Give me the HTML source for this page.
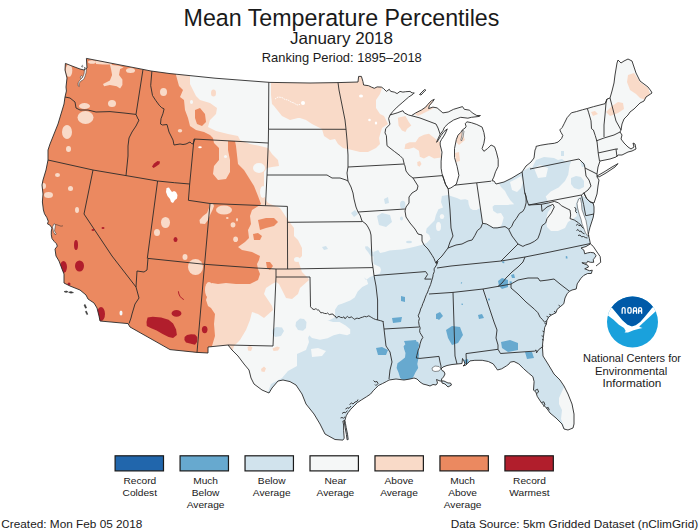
<!DOCTYPE html>
<html><head><meta charset="utf-8"><title>Mean Temperature Percentiles</title>
<style>
html,body{margin:0;padding:0;background:#fff;}
body{width:700px;height:532px;overflow:hidden;position:relative;}
svg{position:absolute;left:0;top:0;}
text{font-family:"Liberation Sans",sans-serif;fill:#1a1a1a;}
</style></head><body>
<svg width="700" height="532" viewBox="0 0 700 532">

<defs><clipPath id="us"><path d="M86.4,58.4 L143,69.4 L151,71 L170,73.6 L180,74.6 L215,78.2 L270,82.4 L310,83 L338,82.6 L358,82 L358.6,76.4 L361.4,76.4 L362.9,81.4 L363.6,85 L368.6,85.7 L371.4,87.1 L374.3,88.3 L377.1,86.9 L381.4,87.1 L383.6,88.6 L386.4,91.4 L389.3,89.3 L390.7,91.4 L394.3,92.1 L397.1,93.6 L400,91.4 L402.9,92.1 L405.7,91.7 L410,91.4 L412.1,92.9 L414.3,92.9 L412.9,94.3 L408.6,97.1 L402.9,102.1 L397.1,107.1 L392.9,111.4 L390,115 L397.1,112.9 L402.9,110.7 L404.3,112.9 L408.6,115 L411.4,115.7 L415.7,112.9 L421.4,110 L425.7,107.1 L427.9,104.3 L431.4,100.7 L434.3,99.3 L432.9,101.4 L429.3,105.7 L428.6,108.6 L432.9,107.1 L437.1,107.9 L442.9,112.9 L448.2,112 L453.6,109.3 L462.5,106.6 L464.3,109.3 L469.6,110.2 L472.3,112.9 L476.8,115.5 L480.4,115.5 L479.5,116.4 L471.4,117.3 L467.9,118.2 L460.7,117.3 L453.6,120 L448.2,123.6 L444.6,127.1 L442.9,130.7 L440.2,134.3 L438.4,137.9 L436.6,142.3 L438,140.5 L441,135.5 L444,131.5 L447.3,128.9 L445.5,133 L443.8,136.1 L441.5,139.5 L440.2,142 L440.2,145 L442,152.1 L441.1,161.1 L441.1,168.2 L442,173.6 L443.8,178.9 L445.5,184.3 L448.2,188.8 L450.9,187.9 L456.3,184.3 L458.9,175.4 L457.1,166.4 L454.5,157.5 L454.5,148.6 L456.3,139.6 L458,135.2 L460.7,132.5 L462.5,129.8 L465.2,128 L466.1,126.3 L465.2,123.6 L467,121.8 L471.4,122.7 L476.8,124.5 L482.1,127.1 L483.9,132.5 L484.8,137.9 L483.9,143.2 L482.1,148.6 L483.9,151.3 L487.5,148.6 L491.1,145 L494.6,146.8 L496.4,152.1 L498.2,159.3 L498.2,166.4 L495.5,171.8 L493.8,177.1 L492,180.7 L494,181 L496,184 L500,183 L504,182 L512,178 L522,172 L526,166 L531,162 L534,158 L535,150 L536,148 L536,146.4 L540.9,145.2 L548.2,144 L554.3,143.3 L558,142.1 L561.6,138.5 L562.8,135.4 L561,132.4 L559.8,129.9 L562.2,127.5 L564.1,123.8 L567.1,117.7 L571.4,112.8 L576.3,111.6 L582.4,109.8 L587.3,108.5 L593.4,106.7 L605,103.7 L607,99 L610,98 L612,91 L614,83 L615,75 L617,63 L618,60 L621,63 L624,61 L628,59 L632,61 L634,67 L636,73 L640,81 L644,84 L648,87 L651,91 L652,93 L646,97 L644,101 L640,103 L638,105 L634,109 L630,112 L628,115 L624,119 L622,124 L621,130 L620,132 L622,135 L621,139 L624,143 L628,147 L631,149 L634,147 L633,143 L635,144 L636,149 L632,151 L628,152 L624,154 L622,155 L618,155 L616,157 L610,159 L600,161 L598,167 L597,174 L597,177 L599,180 L598,186 L597,194 L595,200 L594,203 L590,201.8 L586.6,198.5 L583.8,192.8 L586.6,198.5 L590,201.8 L593.3,203.5 L594,207 L594,212 L593.3,217 L591.7,222 L590,227.2 L588.8,231.7 L588.3,234.5 L589.4,238.8 L590.4,243.9 L586,246.5 L581,248 L583.8,250 L584.7,253.8 L587.6,252.9 L590.4,252.4 L594.1,252.9 L596,255.7 L595,257.6 L593.2,259.4 L593.7,262.3 L590.4,262.3 L587.6,261.3 L586.6,263.2 L581.9,262.7 L584.7,264.1 L587.6,265.1 L588.5,267 L584.7,268.8 L589.4,270.7 L592.3,270.2 L591.3,273.5 L587.6,273.5 L583.8,275.4 L581,278.2 L577.2,283.9 L576.2,289 L572,290 L569.5,291.3 L567.2,293.5 L565,298 L563.8,303.7 L560.5,306.5 L557.1,309.3 L556,312.7 L551.4,315 L548.6,317.2 L546.9,320.6 L546.4,324 L544.7,327.4 L544.1,331.9 L543.5,336.4 L543,340 L542.4,346.4 L543,356 L548,364 L554,374 L560,380 L564,386 L568,394 L572,404 L574,414 L574,424 L573,428 L568,430 L564,429 L562,424 L556,418 L550,413 L546.9,408.5 L544.5,406 L542,403.6 L539.6,400 L537.2,396.3 L535.9,392 L533.5,390.2 L534.1,381.6 L532.9,376.7 L528.6,373.1 L523.7,368.8 L518.8,363.9 L514,361.5 L510.3,362.1 L509.1,363.9 L506.6,365.8 L501.7,368.8 L497.5,370 L496.3,368.2 L493.2,363.9 L488.3,361.5 L482.2,360.3 L474.9,360.3 L470,360.9 L467.5,363.5 L466,365 L463,366 L465,364 L464,361 L462.5,358.5 L462,363.5 L457,364 L452,364.5 L447,365.5 L443,367 L441,369 L442,370.5 L444,371.5 L445,374 L443.5,377 L441.5,379 L442,383 L445,384 L448,387 L451.5,385 L450.5,383 L448,383 L444,381 L440,381 L436.5,379.5 L437.5,383 L436,385 L433,384.5 L430,386 L427,385 L423,384 L420,382 L417,379 L414,378 L410,379 L404,380 L396,379 L389,380 L386.3,381.6 L382.4,383.6 L378.4,385.5 L375.8,388.2 L373.2,390.8 L370.5,394.1 L366.6,396.7 L361.3,400 L357.4,402.6 L354.1,405.9 L350.8,409.2 L348.2,412.5 L346.2,415.8 L344.9,420.4 L342.9,421.1 L343.6,425 L343.6,430.3 L344.2,438.2 L342.9,440.1 L335,439.5 L325,434 L320,424 L314,414 L306,404 L302,394 L296,385 L290,381.6 L283,380 L278,381 L272,388 L269,393 L262,390 L254,384 L251,378 L249,370 L244,364 L238,356 L232,350 L228,345 L208,347 L208,353 L197,352.4 L170,349.6 L130,327 L128,323.6 L100,321 L99,316 L97,308 L94,303 L88,299 L86,295 L80,290 L70,286 L64,283 L64,274 L62,269 L59,261 L56,256 L55,249.1 L57.3,246.1 L56.5,243.8 L54.3,241.6 L52,238.6 L51.3,234.8 L51.3,231 L52,228 L49.8,225 L47.5,223.9 L48.3,221.3 L46.8,217.5 L44.5,213.8 L43.4,210 L42.4,202 L43,194 L42,185 L43,180 L46,170 L48,160 L48,150 L50,144 L54,134 L58,124 L61,114 L64,104 L65,97 L66.4,91 L66,87 L67,78 L65,70 L65.4,63.4 L72,66 L80,69 L84,70 L87,68Z M597,176 L604,172 L612,167 L618,163.6 L615,167 L606,173 L599,177Z M344.9,420.4 L345.5,423.7 L346.2,427.6 L347.5,434.2 L348.2,439.5 L347.1,439.8 L346.4,434.5 L345.2,428 L344.6,424 L344.2,421Z M419.5,94.5 L424.5,89.5 L425.8,90 L421,95Z"/></clipPath></defs>
<g clip-path="url(#us)">
<rect x="0" y="0" width="700" height="532" fill="#f5f7f7"/>
<path d="M272.5,330 L276,327 L282,327.5 L284,331 L281,336 L275,337 L272.5,334Z M266,400 L268,392 L271,384 L282,378 L288,371 L297,366 L297,354 L306,350 L309,342 L307,333 L310,326 L316,324 L324,322 L330,320 L335.1,317.1 L335.1,309.6 L338.1,305.1 L342.6,303.6 L350.2,300.6 L354.7,297.6 L357.7,291.6 L362.2,287 L368.2,284 L366.7,279.5 L363.7,277.3 L366,280 L370,277 L374,275.4 L380,273.5 L381,269.8 L380,267 L373.5,264.1 L373.5,251.9 L378.2,250 L380.1,252.9 L384.8,251.9 L389.5,250.5 L395.1,250 L401.6,249.5 L408.2,248.2 L414.7,246.8 L421.3,244.9 L426.6,242.9 L430.5,239 L429.2,235 L425.9,232.4 L426.6,228.4 L430.5,224.5 L434.5,220.5 L435.8,215.3 L438.4,209.3 L443,207.4 L441,202 L441.9,196 L447.5,195 L452.2,196.4 L456.9,197.9 L460.7,199.7 L465.4,199.3 L468.2,200.2 L468.7,204.4 L470.1,208.2 L472.9,210.1 L476.7,210.1 L479.5,208.2 L481.4,210.1 L480,195 L477,183 L500,183 L510,179 L518,174 L523,171 L530,167 L532,168 L536,160 L544,157 L554,158 L558,160 L562,159 L566,162 L578,160 L586,166 L592,170 L600,180 L600,210 L620,250 L620,450 L250,450Z M377,216 L382,213 L390,215 L392,222 L386,227 L379,225Z M384,199 L388,197 L389,203 L385,204Z M351,213 L355,210 L358,214 L354,217Z M322,247 L326,246 L328,249 L324,250Z M365,246.5 L367.5,246.3 L370,248.5 L373,252 L373.5,256 L371,256.6 L368,252 L365.5,249Z M561,151 L564,151 L564,156 L561,156Z" fill="#d1e3ed" />
<ellipse cx="402.7" cy="204.7" rx="2.7" ry="4" fill="#d1e3ed"/><ellipse cx="401.5" cy="218.5" rx="1.5" ry="2" fill="#d1e3ed"/><ellipse cx="409" cy="242" rx="3" ry="1.2" fill="#d1e3ed"/>
<path d="M300,328 L308,326 L310,334 L306,342 L300,346 L296,342Z M306,320 L310,318 L318,318.5 L326,320 L333,322 L339.6,322 L345.6,325.5 L350.2,329.2 L350.2,333.7 L347.1,335.2 L339.6,333.7 L333.6,335.2 L327.6,338.2 L320,339.7 L312,338 L307,333Z M311,349 L318,348 L326,351 L322,356 L312,357Z M564,387 L559,398 L559,404 L562,410 L561,419 L563,424 L566,432 L580,432 L580,386Z M477,183 L499,183.5 L501,187 L505,191 L507,195 L510.3,200.3 L514.2,204.2 L507.6,204.9 L501,204.9 L494.5,204.9 L492.5,206.8 L493.2,210.8 L497.1,213.4 L501,213 L503.7,217.4 L502.4,222.6 L501,226.6 L494.5,227.5 L489.9,225.9 L486.6,224 L482.6,223.3Z M510,182 L516,179 L521,176 L523,182 L521,188 L517,192 L512,190Z M534,168 L540,165 L548,168 L546,177 L538,178Z M545.7,196.6 L550.8,191.4 L558.6,187.6 L565,181.1 L568.2,174.7 L569.5,165.7 L571.4,160.6 L578,159.5 L584,165 L590,168 L600,180 L598,195 L594,203 L590,202 L586,198 L583,196 L578,198 L576,204 L575,210 L577,216 L573,219 L568,222 L565,228 L558,231 L551,231 L547,227 L546,219 L548,212 L552,207 L548,202Z" fill="#f5f7f7" />
<ellipse cx="438.5" cy="226.5" rx="2.5" ry="4.5" fill="#f5f7f7"/><ellipse cx="442" cy="216.5" rx="2.2" ry="2.5" fill="#f5f7f7"/>
<path d="M296,322 L300,318.6 L304,319 L306.5,322 L306,328 L303,330.7 L298,330 L295.5,326Z M571,178 L576,176 L581,177 L584,181 L584,187 L579,189.5 L574,188 L571,184Z M580.4,162 L584,162.5 L585.6,166.5 L582,167Z" fill="#d1e3ed" />
<path d="M170,55 L190,55 L190,76 L190,84 L196,96 L200,100 L210,103 L217,108 L216,114 L210,120 L208,127 L216,131 L228,134 L238,136 L240,140 L250,144 L260,146 L268,148 L272,154 L278,160 L279,166 L272,167 L267,168 L264,172 L264,194 L266,200 L268,203 L280,208 L284,214 L288,220 L294,228 L294,236 L298,240 L302,248 L302,256 L298,260 L300,266 L302,272 L308,278 L309,280 L300,288 L298,294 L292,299 L286,298 L282,290 L279,284 L276,282 L272,284 L266,288 L264,294 L268,300 L272,306 L273,310 L264,318 L258,314 L252,312 L250,320 L246,330 L240,340 L234,346 L230,360 L170,360Z M271,70 L271,95 L272,104 L274,106 L282,116 L290,120 L298,118 L300,118 L306,120 L312,124 L322,129 L324,136 L330,140 L335,139 L338,144 L343,148 L352,150 L360,152 L368,152 L376,148 L380,144 L379,138 L382,128 L388,124 L384,116 L380,114 L376,108 L376,100 L380,94 L382,88 L383,70Z M397.8,117.8 L405.4,116 L408.8,122 L411.3,125.4 L407.1,128.8 L405.4,132.1 L402,130.5 L398.6,125.4Z M405.4,144 L409.6,142.3 L415.5,142.3 L418.9,137.2 L424,134.7 L429,133.8 L432.5,136.4 L435.8,138.9 L440,142.3 L441,157.5 L434.1,158.4 L429,155.8 L424,158.4 L419.8,156.7 L418.9,150.8 L413.8,147.4 L408.8,149.1 L404.5,149.1Z M417.2,162 L420,161 L421.5,164 L419.5,166.8 L417.5,165.5Z M412,112 L420,108 L428,102 L434,100 L434,108 L426,112 L418,116Z M456,134 L462,132 L465,140 L459,145 L456,142Z M455,153 L459,152 L460,161 L456,162Z M628,75 L634,73 L640,82 L648,88 L651,96 L646,100 L640,98 L636,94 L630,90 L627,82Z M606,112 L612,106 L618,102 L623,103 L624,109 L618,113 L610,116Z M591,112 L595,111 L598,114 L593,116Z" fill="#f9dac8" />
<path d="M0,40 L176,40 L176,75 L179,86 L183,90 L180,97 L184,100 L185,110 L188,118 L190,126 L196,130 L204,132 L210,135 L213,138 L214,143 L219,148 L219,160 L214,166 L213,174 L218,180 L226,179 L230,172 L230,160 L228,150 L228,141 L235,141 L236,146 L238,164 L244,170 L249,178 L254,186 L258,196 L261,204 L260,205 L252,210 L250,216 L251,224 L248,230 L249,238 L245,242 L238,247 L242,250 L252,252 L260,256 L259,260 L257,264 L258,269 L260,274 L258,280 L250,284 L236,284 L226,283 L218,284 L212,283 L206,286 L208,294 L206,300 L208,306 L211,308 L215,314 L214,324 L215,336 L212,346 L212,370 L0,370Z M195,110 L200,108 L205,114 L206,122 L202,126 L197,124 L195,118Z M258,220 L266,218 L274,218 L278,222 L274,226 L266,228 L260,230Z M253,234 L258,233 L262,236 L260,240 L254,240Z M266,262 L270,262 L273,266 L270,270 L267,268Z" fill="#eb8960" />
<ellipse cx="180" cy="130.8" rx="2.2" ry="1.8" fill="#f9dac8"/><ellipse cx="213.5" cy="93" rx="2.5" ry="3.5" fill="#f9dac8"/><ellipse cx="69" cy="70.5" rx="3.3" ry="6.3" fill="#f9dac8"/><ellipse cx="92" cy="62" rx="4" ry="1.8" fill="#f9dac8"/><ellipse cx="130.5" cy="70.5" rx="4.5" ry="2.5" fill="#f9dac8"/><ellipse cx="112" cy="103.5" rx="4" ry="3.5" fill="#f9dac8"/><ellipse cx="84.5" cy="106" rx="5.5" ry="3" fill="#f9dac8"/><ellipse cx="85.5" cy="117.5" rx="8" ry="6.5" fill="#f9dac8"/><ellipse cx="67" cy="132" rx="5" ry="7" fill="#f9dac8"/><ellipse cx="68.5" cy="149" rx="2.5" ry="3" fill="#f9dac8"/><ellipse cx="163.5" cy="92" rx="3.5" ry="4" fill="#f9dac8"/><ellipse cx="57.5" cy="175" rx="2.5" ry="2" fill="#f9dac8"/><ellipse cx="70.5" cy="188.5" rx="2.5" ry="2.5" fill="#f9dac8"/><ellipse cx="48.5" cy="195" rx="4.5" ry="3" fill="#f9dac8"/><ellipse cx="43.5" cy="186" rx="2.5" ry="3" fill="#f9dac8"/><ellipse cx="77" cy="210" rx="2" ry="3" fill="#f9dac8"/><ellipse cx="165.5" cy="222.5" rx="4.5" ry="5.5" fill="#f9dac8"/><ellipse cx="157" cy="232.5" rx="3" ry="3.5" fill="#f9dac8"/><ellipse cx="195.5" cy="267" rx="7.5" ry="8" fill="#f9dac8"/><ellipse cx="224" cy="210" rx="8" ry="4.5" fill="#f9dac8"/><ellipse cx="233" cy="224.8" rx="2.4" ry="2.6" fill="#f9dac8"/><ellipse cx="235.6" cy="239.3" rx="2.4" ry="2.8" fill="#f9dac8"/><ellipse cx="227.3" cy="218" rx="1.3" ry="1" fill="#f9dac8"/><ellipse cx="237" cy="219.8" rx="1" ry="1.8" fill="#f9dac8"/><ellipse cx="209" cy="290" rx="4" ry="8" fill="#f9dac8"/><ellipse cx="185" cy="257" rx="2.5" ry="3" fill="#f9dac8"/>
<path d="M209.5,203.5 L213,203.5 L214,206 L212.5,210 L210.5,214 L208,220 L205,224 L200,223.5 L199.5,220 L203,216 L207,213 L209,208Z M247.5,347 L250,345.5 L252.5,347.5 L251,351 L248,350.5Z M272.5,348.5 L277,346.5 L280,347.5 L278,350.5 L273.5,351Z M261,369 L264,366.5 L266,368.5 L264.5,372 L261.5,371.5Z M103,64.6 L109.9,64.6 L111,69.1 L112.1,74.9 L109.9,80.6 L103,84 L104.1,86.3 L109.9,85.1 L116.7,86.3 L120.1,88.6 L122.4,85.1 L122.4,79.4 L119,74.9 L120.1,69.1 L123.6,67.4 L119,65.7 L112.1,65.1 L110,61 L100,60.5 L96,61 L96,64Z" fill="#f9dac8" />
<ellipse cx="191.5" cy="102" rx="1.5" ry="2" fill="#f5f7f7"/><ellipse cx="225.5" cy="156.5" rx="1.5" ry="1.5" fill="#f5f7f7"/><ellipse cx="259" cy="168" rx="6" ry="5" fill="#f5f7f7"/><ellipse cx="263" cy="192" rx="3" ry="6" fill="#f5f7f7"/><ellipse cx="297" cy="259.5" rx="3" ry="2.5" fill="#f5f7f7"/><ellipse cx="121" cy="313" rx="1.5" ry="2.5" fill="#f5f7f7"/>
<ellipse cx="369.5" cy="120" rx="1.3" ry="1.2" fill="#ffffff"/><ellipse cx="376" cy="123" rx="1.2" ry="1.5" fill="#ffffff"/><ellipse cx="361" cy="96" rx="2" ry="1.5" fill="#ffffff"/><ellipse cx="303" cy="103" rx="2" ry="2" fill="#ffffff"/><ellipse cx="200" cy="147.2" rx="1.8" ry="1" fill="#ffffff"/>
<path d="M166.5,188 L169,187.5 L170.5,190 L172,192 L174,191 L176,192 L177.5,195 L177,198.5 L175,200 L173,203 L171,202 L170,199 L167.5,196 L166,192Z" fill="#ffffff" />
<path d="M152,166.5 L154,163.5 L157.5,161 L160,161.5 L159.5,164 L156,166.5 L153.5,168Z M147.6,317.6 L152.8,316.8 L161.1,317.6 L168.6,319.8 L173.1,323.6 L176.1,329.6 L176.9,334.9 L173.1,337.9 L168.6,337.1 L162.6,334.1 L156.6,330.4 L150.6,328.1 L146.8,325.9 L146.5,322.1Z M184.6,337 L187,335 L191,334.2 L195,334.5 L197.2,337 L197,342 L195,344.7 L190,343.5 L186,342.5 L184.4,340Z" fill="#b11e2c" />
<ellipse cx="76" cy="245" rx="2" ry="5" fill="#b11e2c"/><ellipse cx="63.5" cy="267" rx="3.5" ry="6" fill="#b11e2c"/><ellipse cx="79.5" cy="266" rx="4.5" ry="5.5" fill="#b11e2c"/><ellipse cx="103" cy="228" rx="1.5" ry="1" fill="#b11e2c"/><ellipse cx="93" cy="230" rx="1.5" ry="1" fill="#b11e2c"/><ellipse cx="175.5" cy="239.5" rx="2" ry="2.5" fill="#b11e2c"/><ellipse cx="176.5" cy="313.4" rx="4.9" ry="3.4" fill="#b11e2c"/><ellipse cx="204.7" cy="329.6" rx="2.8" ry="3.6" fill="#b11e2c"/><ellipse cx="69" cy="284" rx="1.5" ry="1.5" fill="#b11e2c"/><ellipse cx="101" cy="314" rx="4" ry="7" fill="#b11e2c"/>
<path d="M178.4,291.3 Q178.8,297 183.8,299.6" fill="none" stroke="#b11e2c" stroke-width="1"/>
<path d="M502.2,261.2 L504.4,261.4 L504.2,263.2 L502.4,263Z M565.8,256 L567.2,256.2 L567.6,258.6 L565.8,258.4Z M509.6,281.2 L511.8,281.4 L511.8,283.6 L509.8,283.4Z M461,282.2 L462.2,282.4 L462,283.6 L460.8,283.4Z M488,298.6 L490,298.8 L489.8,300.4 L488.2,300.2Z M461.6,303.6 L463,303.8 L462.8,305 L461.4,304.8Z M412.6,340.6 L418.2,342 L419.1,345.3 L418.2,349.1 L419.1,354.7 L418.2,359.4 L417.3,364.1 L418.2,367.9 L415.4,372.6 L413.5,376.4 L411.6,379.2 L408.8,381 L405,381 L400.3,378.2 L398.5,372.6 L396.6,367.9 L397.5,363.2 L401.3,360.4 L405,357.6 L405.5,352.9 L404.1,349.1 L403.6,346.3 L406,343.5 L408.8,341.6Z M376,348 L382,347 L388,350 L386,355 L378,355Z M446,330 L452,326 L460,327 L463,335 L458,343 L452,345 L448,338Z M436,314 L440,312 L443,316 L439,320 L436,318Z M478,315 L482,314 L484,318 L479,319Z M501,342 L510,340 L518,343 L518,350 L508,352 L502,348Z M525,352 L532,352 L534,358 L527,359Z M498,281 L502,278 L508,280 L508,287 L502,289 L499,286Z M511,275 L514,274 L515,278 L512,278Z M401,296 L405,297 L405,302 L401,301Z M392,318 L402,317 L401,322 L393,323Z M404,341 L416,340 L418,346 L406,346Z M464,360 L468,359 L469,364 L465,364Z M436,314 L440,313 L440,319 L436,319Z" fill="#67a9cf" />
</g>
<path d="M275,99 L278,97 L282,97.5 L285,99.5 L288,100 L291,102 L294,103 L297,105 L300,104.5" fill="none" stroke="#fff" stroke-width="0.9" stroke-dasharray="1.6 0.8" clip-path="url(#us)"/>
<g fill="#fff" stroke="#2a2a2a" stroke-width="0.5">
<path d="M578.7,199 L577,203.5 L577.6,208 L579.2,214.2 L581,219.3 L582,223.8 L583.8,228.3 L585.5,232.9 L587.7,236.2 L589,236 L588.3,234.5 L587.7,231.7 L587,226 L586,220.5 L584.3,216 L582,209.7 L581.5,203.5 L580.4,198 Z"/>
<path d="M432,368 L435,366 L439,366.5 L441,368.5 L439,371 L435,371.5 L432.5,370.5 Z"/>
<path d="M462.5,130 L464,131 L463,137 L461.5,141 L460.8,140 L462,135 Z"/>
<path d="M84.5,67 L86.5,69 L86,73 L84.8,77 L83.5,79.5 L81,81 L79,83.5 L79.3,86.5 L78.2,86 L78,83 L80,80 L82.5,77.5 L84,74 L84.5,70 Z"/><path d="M80,77 L81.5,75.5 L82.5,77 L81,78.5 Z"/><path d="M81.5,66 L82.5,65.2 L83,66.5 L82,67.2 Z"/>
<path d="M52.5,227 L54,223.8 L55.5,224.5 L55,228 L54.5,231 L56,233.5 L55.5,235 L53.5,232 L53,229 Z"/><path d="M55.5,224.5 L57,224.8 L59,225.5 L61,226.2 L63,225.8" fill="none"/>
<path d="M64,291.6 L66.5,291 L68,291.8 L66,292.5 Z M68.5,292.2 L71,291.6 L73.5,292.6 L71,293.2 Z M84,305 L85.2,304.5 L86.6,307.8 L85.4,308.2 Z M85.4,311.5 L86.4,311 L87.8,314.2 L86.8,314.6 Z" fill="#444"/>
</g>
<path d="M535,390.5 L537.5,389.2 L538.6,392 L536.6,393.6 M541.5,402.5 L543.8,401.8 L545,404.8 L543,406.4 M546,408.3 L548.2,407.4 L549.3,410.2 M543.4,336.5 L541.6,335.8 M543.8,340 L542,339.5 M556,312.7 L554,311.2 M551.4,315 L549.2,314.2 M548.6,317.2 L546.6,316.4 M560.5,306.5 L558.6,305.2 M546.4,324 L544.6,323.5 M544.1,331.9 L542.5,331 M340.5,418 L342,417.5 L343.5,418.2 L345,416.8 M342,413.5 L344,412.2 L345.5,412.8 L347.5,410.5 M345.5,409 L347.5,407.8 L349,408.3 L351,406 M349.5,404.5 L351.5,403 L353,404 L355,402 L357,401.5 L358,399.5 M373.5,380.5 L375,382 L377,381.5 L378,383.5 L376,385.5 L375,384.5 M576,225.5 L577.5,224.2 L579,225.8 L580.5,225 L582,227 L583.5,228.5 M576.5,230.5 L578,229.5 L579.5,231.5 L581,231 L582.5,233 L584.5,233.8 M578,235.5 L580,235 L581.5,236.8 L583.5,236.5 L585.5,237.6 L587.5,238 M574.5,207 L576,209 L575.5,211.5 L577,213 M590.4,243.9 L593.2,246.3 L597,252 L600.2,256.6 L600.7,262.3 L596,266 M65,97 L70,98 L75,102 L76,108 L80,110 L88,110 L96,112 L110,111.6 L124,113 L136,114.4 L138,119 M138,119 L139,120 L136,126 L132,132 L129,138 L128,146 L128,156 L126,175.6 M143,69.4 L136,114.4 M48,160 L93,170 L126,175.6 L157.6,181 L174.3,182.7 L189.7,184 M93,170 L84,214 L112,256 L136,287 M157.6,181 L147.3,258.4 M136,287 L137,271 L144,272 L147,270 L148,258 M136,287 L139,298 L135,304 L132,314 L131,318 L129,323.6 M148,258.4 L204.6,264.3 L256,268 L276,269 L288,269 L373,267.6 M210,203.5 L204.6,264.3 M204.6,264.3 L197,352.4 M276,269 L276,277 L300,277 L310,277 L310.5,306.7 M276,277 L273,346 L228,345 M151.9,71.2 L151.3,78 L150.7,85.7 L152.5,95.5 L155.6,100.3 L159.2,105.2 L161.7,107.7 L164.1,108.9 L162.9,113.8 L161,118.7 L160.5,124 L162.5,125 L167,124.5 L169,132 L171,136 L173,140 L174,145 L177,144.5 L180,144 L183,144.5 L186,144 L188,143 L190,142 L191.5,143.5 L193,144 L194,141.5 L195,139 M194,139 L268,143 M194,139 L189.7,184 L188.4,200.3 M188.4,200.3 L210,203.5 L265.5,205.7 L287.4,206.4 M287.4,206.4 L287.6,269 M287.4,222.3 L362,221.6 M268.8,82.4 L268.5,129.2 L268.3,143 L267,175 L265.5,205.7 M268.5,129.2 L346,129.3 M267,175 L327,175 L332,178 L340,178 L346,180 L348,181 M338,82.6 L339,90 L341,100 L343,110 L345,120 L346,129 L347,140 L348,155 L348,167 L347,173 L348,181 M348,167 L404,164 M348,181 L351,187 L353,193 L354,199 L356,207 L358,212 L360,215 L362,221 L366,224 L368,227 L370,231 L371,235 L372,261 L373,267.6 L374,275.6 M358,212 L405,209 M390,115 L388.6,118.6 L390,124.3 L385.7,128.6 L385,132.9 L386.4,135.7 L387,145.7 L394.3,151.4 L400,155.7 L402.9,158.6 L404.3,164.3 L405,166 L406,171 L409,175 L413,178 L418,186 L417,190 L412,193 L409,197 L409,203 L406,207 L405,211 L406,217 L410,223 L415,229 L418,234 L422,235 L422,241 L424,245 L428,249 L432.3,255.6 L434,258.5 L435.1,261.3 L436,263.2 L437.9,261.3 L436.5,265 L434.1,268.8 L434.3,271.5 L433.2,274.4 L432.8,277 L431.3,282 L430.6,284.5 L428.5,289.5 L427.7,292 L426.4,294.5 L424.7,298.9 L424,301 L422.8,303.6 L421.9,306.4 L420.6,309 L419.8,312 L418.2,315.8 L419.4,318.5 L418.6,321.5 L419.1,325.2 L420.2,328 L419.6,330.5 L420,332.7 L421.5,335 L422.9,337.4 L421.3,340 L420,344 L419.5,347 L418.2,350 L417.5,353 L416.8,355.5 L416.3,358 M411.4,115.7 L420,118 L428,121 L436,124 L438,128 L440.2,134.3 M413,178 L442.5,175.6 M374,275.6 L425.7,271.6 L427.6,274.4 L424.7,279.1 L431.3,279.1 M374,275.6 L376,286 L377.6,300 L377.6,320 M310.5,306.7 L312,308.5 L314.1,309.7 L315.2,308.8 L316.5,309.1 L317.5,310 L318.4,309.7 L320.8,312.8 L322.5,312.6 L324.4,313.4 L326.5,313.6 L327.5,313 L329.3,314.6 L331,314.2 L332.9,314 L334.1,315.8 L335.2,316 L336.6,318.2 L337.6,316.8 L339,316.4 L340.6,317.4 L342.6,317.6 L343.8,316.8 L345.1,318.8 L346.3,317.2 L347.5,316.4 L348.8,317.6 L349.9,317.6 L351.2,316.8 L352.4,317.6 L353.6,318.6 L354.8,319.4 L356,318.4 L357.2,318.2 L359,318.6 L360.9,317.6 L362.6,317.2 L364.5,316.4 L366.5,316.8 L368.8,315.8 L370.2,316.6 L371.8,317.6 L373.5,318.6 L375.4,319.4 L377.9,320 L380.3,320.6 L382.7,321.3 L383.3,322 M383,321 L384,329 L386,346 L390,352 L392,362 L390,370 L389,379 M384,329 L419,327 M416.3,358 L420,358.4 L439,356.4 L440,362 L441,366 L441,369 M429,294 L453,292.4 L483,289 L498,286.4 L511,284 M453,292.4 L455,356 L457,364 M483,289 L488,304 L494,322 L497,330 L496,338 L498,345 L498,349.3 L500.5,353.5 L534.7,351.1 L536,349.9 L536.5,352.9 L538.4,349.9 L543.3,346.2 M466.5,364 L466,353.6 L498,349.3 M511,284 L518,280 L528,278 L538,278 L540,281 L548,280 L554,279 L560,284 L569.5,291.3 M511,284 L511,288 L518,294 L526,302 L530,305.4 L534.5,309.3 L537.9,312.7 L540.1,317.2 L542.4,319.5 L544.7,322.3 L546.9,320.6 M525,257 L523,262 L518,267 L512,272 L506,278 L502,283 L498,286.4 M437,268 L451,266 L501,261 L525,257 L550,252 L590,243.6 M501,261 L508,254 L514,248 L518,244 M509,230 L512,236 L518,244 M518,244 L522.9,246.4 L525.7,245 L530,243.6 L534.3,241.4 L537.9,238.6 L540,232.9 L542,225.7 L545.7,222.9 L547,218.6 L551.4,212.9 L554.3,207 L552.9,204.3 L547,207 L542,211.4 L541.4,204.3 M528.6,205 L541.4,204.3 L548.6,202.9 L554.3,201.4 L558.6,202.9 L561.4,205.7 L567,208.6 L570,210 L570.7,215 L570,218.6 L574.3,220 L578.6,222.9 L581.4,225.7 M528.6,205 L581.4,195 L583.6,204.3 L585.7,215.7 L594,214 M448,248 L442,256 L436,262 L437,264 M442.5,175.6 L445.5,184.3 L448.2,188.8 L450,210 L451,228 L453,236 L450,242 L448,248 M448,248 L456,245 L462,244 L468,241 L472.1,240 L474.7,235.8 L477.4,230.5 L480.7,227.9 L482.6,223.3 L486.6,224 L489.9,225.9 L493.2,227.9 L497.1,227.9 L501,227.2 L505,226.6 L508.9,229.2 L509,230 M476.7,182.8 L482.6,223.3 M455,185.1 L476.7,182.8 L491.2,181.2 M522.1,172 L524.7,192.4 L526.5,199 L528.6,205 M524.7,192.4 L526.1,196.3 L526.1,202.9 L524.7,208.2 L522.8,211.4 L519.5,213.4 L516.2,218.7 L513.6,222 L511.6,226.6 L508.9,229.2 M530,169 L579,159 M579,159 L584,164 L585,168 L586,176 L589,180 L591,186 L588,190 L584,193 L581.4,195 M585,168 L597,174 M587.3,108.5 L588.5,112.2 L591,120.8 L591.5,128.7 L593.4,130 L595.2,135.4 L597,141.5 L598.3,153.7 L599.5,161 M607,99 L606,103 L605,115 L604,125 L604,137 M610,98 L616,121 L621,130 M596,141 L604,138 L614,135 L620,132 M598,153 L616,149 L618,149 M616,149 L617,157" fill="none" stroke="#2a2a2a" stroke-width="0.9" stroke-linejoin="round"/>
<path d="M86.4,58.4 L143,69.4 L151,71 L170,73.6 L180,74.6 L215,78.2 L270,82.4 L310,83 L338,82.6 L358,82 L358.6,76.4 L361.4,76.4 L362.9,81.4 L363.6,85 L368.6,85.7 L371.4,87.1 L374.3,88.3 L377.1,86.9 L381.4,87.1 L383.6,88.6 L386.4,91.4 L389.3,89.3 L390.7,91.4 L394.3,92.1 L397.1,93.6 L400,91.4 L402.9,92.1 L405.7,91.7 L410,91.4 L412.1,92.9 L414.3,92.9 L412.9,94.3 L408.6,97.1 L402.9,102.1 L397.1,107.1 L392.9,111.4 L390,115 L397.1,112.9 L402.9,110.7 L404.3,112.9 L408.6,115 L411.4,115.7 L415.7,112.9 L421.4,110 L425.7,107.1 L427.9,104.3 L431.4,100.7 L434.3,99.3 L432.9,101.4 L429.3,105.7 L428.6,108.6 L432.9,107.1 L437.1,107.9 L442.9,112.9 L448.2,112 L453.6,109.3 L462.5,106.6 L464.3,109.3 L469.6,110.2 L472.3,112.9 L476.8,115.5 L480.4,115.5 L479.5,116.4 L471.4,117.3 L467.9,118.2 L460.7,117.3 L453.6,120 L448.2,123.6 L444.6,127.1 L442.9,130.7 L440.2,134.3 L438.4,137.9 L436.6,142.3 L438,140.5 L441,135.5 L444,131.5 L447.3,128.9 L445.5,133 L443.8,136.1 L441.5,139.5 L440.2,142 L440.2,145 L442,152.1 L441.1,161.1 L441.1,168.2 L442,173.6 L443.8,178.9 L445.5,184.3 L448.2,188.8 L450.9,187.9 L456.3,184.3 L458.9,175.4 L457.1,166.4 L454.5,157.5 L454.5,148.6 L456.3,139.6 L458,135.2 L460.7,132.5 L462.5,129.8 L465.2,128 L466.1,126.3 L465.2,123.6 L467,121.8 L471.4,122.7 L476.8,124.5 L482.1,127.1 L483.9,132.5 L484.8,137.9 L483.9,143.2 L482.1,148.6 L483.9,151.3 L487.5,148.6 L491.1,145 L494.6,146.8 L496.4,152.1 L498.2,159.3 L498.2,166.4 L495.5,171.8 L493.8,177.1 L492,180.7 L494,181 L496,184 L500,183 L504,182 L512,178 L522,172 L526,166 L531,162 L534,158 L535,150 L536,148 L536,146.4 L540.9,145.2 L548.2,144 L554.3,143.3 L558,142.1 L561.6,138.5 L562.8,135.4 L561,132.4 L559.8,129.9 L562.2,127.5 L564.1,123.8 L567.1,117.7 L571.4,112.8 L576.3,111.6 L582.4,109.8 L587.3,108.5 L593.4,106.7 L605,103.7 L607,99 L610,98 L612,91 L614,83 L615,75 L617,63 L618,60 L621,63 L624,61 L628,59 L632,61 L634,67 L636,73 L640,81 L644,84 L648,87 L651,91 L652,93 L646,97 L644,101 L640,103 L638,105 L634,109 L630,112 L628,115 L624,119 L622,124 L621,130 L620,132 L622,135 L621,139 L624,143 L628,147 L631,149 L634,147 L633,143 L635,144 L636,149 L632,151 L628,152 L624,154 L622,155 L618,155 L616,157 L610,159 L600,161 L598,167 L597,174 L597,177 L599,180 L598,186 L597,194 L595,200 L594,203 L590,201.8 L586.6,198.5 L583.8,192.8 L586.6,198.5 L590,201.8 L593.3,203.5 L594,207 L594,212 L593.3,217 L591.7,222 L590,227.2 L588.8,231.7 L588.3,234.5 L589.4,238.8 L590.4,243.9 L586,246.5 L581,248 L583.8,250 L584.7,253.8 L587.6,252.9 L590.4,252.4 L594.1,252.9 L596,255.7 L595,257.6 L593.2,259.4 L593.7,262.3 L590.4,262.3 L587.6,261.3 L586.6,263.2 L581.9,262.7 L584.7,264.1 L587.6,265.1 L588.5,267 L584.7,268.8 L589.4,270.7 L592.3,270.2 L591.3,273.5 L587.6,273.5 L583.8,275.4 L581,278.2 L577.2,283.9 L576.2,289 L572,290 L569.5,291.3 L567.2,293.5 L565,298 L563.8,303.7 L560.5,306.5 L557.1,309.3 L556,312.7 L551.4,315 L548.6,317.2 L546.9,320.6 L546.4,324 L544.7,327.4 L544.1,331.9 L543.5,336.4 L543,340 L542.4,346.4 L543,356 L548,364 L554,374 L560,380 L564,386 L568,394 L572,404 L574,414 L574,424 L573,428 L568,430 L564,429 L562,424 L556,418 L550,413 L546.9,408.5 L544.5,406 L542,403.6 L539.6,400 L537.2,396.3 L535.9,392 L533.5,390.2 L534.1,381.6 L532.9,376.7 L528.6,373.1 L523.7,368.8 L518.8,363.9 L514,361.5 L510.3,362.1 L509.1,363.9 L506.6,365.8 L501.7,368.8 L497.5,370 L496.3,368.2 L493.2,363.9 L488.3,361.5 L482.2,360.3 L474.9,360.3 L470,360.9 L467.5,363.5 L466,365 L463,366 L465,364 L464,361 L462.5,358.5 L462,363.5 L457,364 L452,364.5 L447,365.5 L443,367 L441,369 L442,370.5 L444,371.5 L445,374 L443.5,377 L441.5,379 L442,383 L445,384 L448,387 L451.5,385 L450.5,383 L448,383 L444,381 L440,381 L436.5,379.5 L437.5,383 L436,385 L433,384.5 L430,386 L427,385 L423,384 L420,382 L417,379 L414,378 L410,379 L404,380 L396,379 L389,380 L386.3,381.6 L382.4,383.6 L378.4,385.5 L375.8,388.2 L373.2,390.8 L370.5,394.1 L366.6,396.7 L361.3,400 L357.4,402.6 L354.1,405.9 L350.8,409.2 L348.2,412.5 L346.2,415.8 L344.9,420.4 L342.9,421.1 L343.6,425 L343.6,430.3 L344.2,438.2 L342.9,440.1 L335,439.5 L325,434 L320,424 L314,414 L306,404 L302,394 L296,385 L290,381.6 L283,380 L278,381 L272,388 L269,393 L262,390 L254,384 L251,378 L249,370 L244,364 L238,356 L232,350 L228,345 L208,347 L208,353 L197,352.4 L170,349.6 L130,327 L128,323.6 L100,321 L99,316 L97,308 L94,303 L88,299 L86,295 L80,290 L70,286 L64,283 L64,274 L62,269 L59,261 L56,256 L55,249.1 L57.3,246.1 L56.5,243.8 L54.3,241.6 L52,238.6 L51.3,234.8 L51.3,231 L52,228 L49.8,225 L47.5,223.9 L48.3,221.3 L46.8,217.5 L44.5,213.8 L43.4,210 L42.4,202 L43,194 L42,185 L43,180 L46,170 L48,160 L48,150 L50,144 L54,134 L58,124 L61,114 L64,104 L65,97 L66.4,91 L66,87 L67,78 L65,70 L65.4,63.4 L72,66 L80,69 L84,70 L87,68Z M597,176 L604,172 L612,167 L618,163.6 L615,167 L606,173 L599,177Z M344.9,420.4 L345.5,423.7 L346.2,427.6 L347.5,434.2 L348.2,439.5 L347.1,439.8 L346.4,434.5 L345.2,428 L344.6,424 L344.2,421Z M419.5,94.5 L424.5,89.5 L425.8,90 L421,95Z" fill="none" stroke="#2a2a2a" stroke-width="0.9" stroke-linejoin="round"/>
<text x="183.6" y="26" font-size="24.3" text-anchor="start" textLength="315.8" lengthAdjust="spacingAndGlyphs" >Mean Temperature Percentiles</text>
<text x="290.0" y="44.3" font-size="16.5" text-anchor="start" textLength="103" lengthAdjust="spacingAndGlyphs" >January 2018</text>
<text x="261.8" y="62.0" font-size="13.6" text-anchor="start" textLength="160" lengthAdjust="spacingAndGlyphs" >Ranking Period: 1895&#8211;2018</text>
<rect x="115.1" y="455.8" width="48.4" height="15.1" fill="#2166ac" stroke="#1a1a1a" stroke-width="1.2"/>
<text x="139.8" y="483.8" font-size="9.6" text-anchor="middle" textLength="32.8" lengthAdjust="spacingAndGlyphs" >Record</text>
<text x="139.8" y="496.0" font-size="9.6" text-anchor="middle" textLength="34.48" lengthAdjust="spacingAndGlyphs" >Coldest</text>
<rect x="180.07" y="455.8" width="48.4" height="15.1" fill="#67a9cf" stroke="#1a1a1a" stroke-width="1.2"/>
<text x="205.6" y="483.8" font-size="9.6" text-anchor="middle" textLength="24.88" lengthAdjust="spacingAndGlyphs" >Much</text>
<text x="205.6" y="496.0" font-size="9.6" text-anchor="middle" textLength="27.71" lengthAdjust="spacingAndGlyphs" >Below</text>
<text x="205.6" y="508.2" font-size="9.6" text-anchor="middle" textLength="37.69" lengthAdjust="spacingAndGlyphs" >Average</text>
<rect x="245.04" y="455.8" width="48.4" height="15.1" fill="#d1e3ed" stroke="#1a1a1a" stroke-width="1.2"/>
<text x="271.7" y="483.8" font-size="9.6" text-anchor="middle" textLength="27.71" lengthAdjust="spacingAndGlyphs" >Below</text>
<text x="271.7" y="496.0" font-size="9.6" text-anchor="middle" textLength="37.69" lengthAdjust="spacingAndGlyphs" >Average</text>
<rect x="310.01" y="455.8" width="48.4" height="15.1" fill="#f5f7f7" stroke="#1a1a1a" stroke-width="1.2"/>
<text x="335.4" y="483.8" font-size="9.6" text-anchor="middle" textLength="22.05" lengthAdjust="spacingAndGlyphs" >Near</text>
<text x="335.4" y="496.0" font-size="9.6" text-anchor="middle" textLength="37.69" lengthAdjust="spacingAndGlyphs" >Average</text>
<rect x="374.98" y="455.8" width="48.4" height="15.1" fill="#f9dac8" stroke="#1a1a1a" stroke-width="1.2"/>
<text x="399.0" y="483.8" font-size="9.6" text-anchor="middle" textLength="28.83" lengthAdjust="spacingAndGlyphs" >Above</text>
<text x="399.0" y="496.0" font-size="9.6" text-anchor="middle" textLength="37.69" lengthAdjust="spacingAndGlyphs" >Average</text>
<rect x="439.95" y="455.8" width="48.4" height="15.1" fill="#eb8960" stroke="#1a1a1a" stroke-width="1.2"/>
<text x="462.6" y="483.8" font-size="9.6" text-anchor="middle" textLength="24.88" lengthAdjust="spacingAndGlyphs" >Much</text>
<text x="462.6" y="496.0" font-size="9.6" text-anchor="middle" textLength="28.83" lengthAdjust="spacingAndGlyphs" >Above</text>
<text x="462.6" y="508.2" font-size="9.6" text-anchor="middle" textLength="37.69" lengthAdjust="spacingAndGlyphs" >Average</text>
<rect x="504.92" y="455.8" width="48.4" height="15.1" fill="#b11e2c" stroke="#1a1a1a" stroke-width="1.2"/>
<text x="529.5" y="483.8" font-size="9.6" text-anchor="middle" textLength="32.8" lengthAdjust="spacingAndGlyphs" >Record</text>
<text x="529.5" y="496.0" font-size="9.6" text-anchor="middle" textLength="40.31" lengthAdjust="spacingAndGlyphs" >Warmest</text>
<text x="1.3" y="527.5" font-size="11.2" text-anchor="start" textLength="141" lengthAdjust="spacingAndGlyphs" >Created: Mon Feb 05 2018</text>
<text x="698.2" y="527.5" font-size="11.2" text-anchor="end" textLength="247.5" lengthAdjust="spacingAndGlyphs" >Data Source: 5km Gridded Dataset (nClimGrid)</text>
<text x="632.0" y="361.7" font-size="10.9" text-anchor="middle" textLength="98" lengthAdjust="spacingAndGlyphs" >National Centers for</text>
<text x="631.1" y="374.9" font-size="10.9" text-anchor="middle" textLength="72.2" lengthAdjust="spacingAndGlyphs" >Environmental</text>
<text x="631.9" y="387.1" font-size="10.9" text-anchor="middle" textLength="59" lengthAdjust="spacingAndGlyphs" >Information</text>
<defs><clipPath id="nc"><circle cx="632.5" cy="322" r="25.5"/></clipPath></defs>
<g clip-path="url(#nc)">
<rect x="600" y="290" width="70" height="70" fill="#1aa1dc"/>
<path d="M600,290 L665,290 L665,300 L652.2,307.8 L649.4,311.2 L644.9,316.8 L640.3,321.9 L635.8,325.3 L631.9,326.4 L627.4,324.7 L622.3,320.2 L616.7,313.4 L611.9,307.8 L600,307.8 Z" fill="#005aa8"/>
<path d="M600,307.8 L611.9,307.8 L616.7,313.4 L622.3,320.2 L627.4,324.7 L631.9,326.4 L635.8,325.3 L640.3,321.9 L644.9,316.8 L649.4,311.2 L652.2,307.8 L665,300 L665,307 L656,311 L650,316.5 L644,322 L639.2,326.4 L640.9,327.5 L642.6,328.1 L639.2,328.7 L633.6,330.3 L628,332.6 L624.6,332.6 L625.7,330.9 L624,328.1 L618.9,324.7 L613.3,319.6 L607.6,315.2 L600,314.5 Z" fill="#fff"/>
</g>
<path d="M622.15,313.75 V309.12 Q622.15,307.65 623.62,307.65 Q625.10,307.65 625.10,309.12 V313.75 M633.40,313.75 V309.25 Q633.40,307.65 635.00,307.65 Q636.60,307.65 636.60,309.25 V313.75 M633.40,311.0 H636.60 M638.65,313.75 V309.12 Q638.65,307.65 640.12,307.65 Q641.60,307.65 641.60,309.12 V313.75 M638.65,311.0 H641.60" fill="none" stroke="#fff" stroke-width="1.3"/><rect x="627.9" y="307.65" width="3.2" height="5.45" rx="1.3" fill="none" stroke="#fff" stroke-width="1.3"/>

</svg></body></html>
